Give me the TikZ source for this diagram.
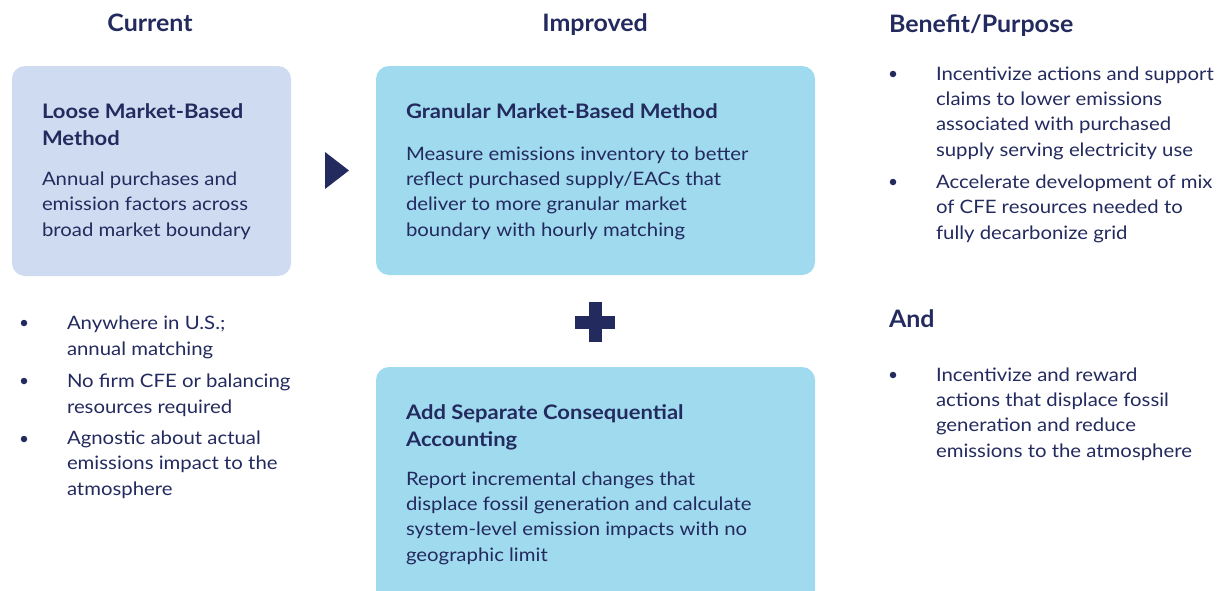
\documentclass[tikz,border=0pt]{standalone}
\usepackage{fontspec}
\setmainfont{Lato}[FakeStretch=1.1]
\newfontfamily\headfont{Lato}[FakeStretch=1.04]
\definecolor{navy}{HTML}{232A5E}
\definecolor{lavender}{HTML}{CEDBF0}
\definecolor{sky}{HTML}{A0DAEE}
\begin{document}
\begin{tikzpicture}[x=1pt,y=-1pt,
  every node/.style={inner sep=0pt, outer sep=0pt, text=navy},
  head/.style={anchor=base, font=\headfont\fontsize{24}{28}\selectfont\bfseries},
  headleft/.style={anchor=base west, font=\headfont\fontsize{24}{28}\selectfont\bfseries},
  % multi-line nodes are placed by the baseline of their last line
  boxtitle/.style={anchor=base west, align=left, font=\fontsize{20}{26.5}\selectfont\bfseries},
  body/.style={anchor=base west, align=left, font=\fontsize{18.5}{25.3}\selectfont},
  bul/.style={circle, fill=navy, minimum size=6.5pt},
  softbox/.style={rectangle, rounded corners=13pt, anchor=north west},
  glyph/.style={fill=navy}
]
\useasboundingbox (0,0) rectangle (1222,590);
\clip (0,0) rectangle (1222,590);

% column headings
\node[head] (hcur) at (150,31) {Current};
\node[head] (himp) at (595,31) {Improved};
\node[headleft] (hben) at (889,32) {Benefit/Purpose};
\node[headleft] (hand) at (889,327) {And};

% boxes
\node[softbox, fill=lavender, minimum width=279pt, minimum height=210pt] (loose) at (12,66) {};
\node[softbox, fill=sky, minimum width=439pt, minimum height=209pt] (gran) at (376,66) {};
\node[softbox, fill=sky, minimum width=439pt, minimum height=250pt] (cons) at (376,367) {};

% box texts
\node[boxtitle] (tloose) at (42,145) {Loose Market-Based\\Method};
\node[body] (bloose) at (42,236) {Annual purchases and\\emission factors across\\broad market boundary};

\node[boxtitle] (tgran) at (406,118) {Granular Market-Based Method};
\node[body] (bgran) at (406,236) {Measure emissions inventory to better\\reflect purchased supply/EACs that\\deliver to more granular market\\boundary with hourly matching};

\node[boxtitle] (tcons) at (406,446) {Add Separate Consequential\\Accounting};
\node[body] (bcons) at (406,561) {Report incremental changes that\\displace fossil generation and calculate\\system-level emission impacts with no\\geographic limit};

% arrow head between the two methods
\fill[glyph] (325,152) -- (349,170.5) -- (325,189) -- cycle;

% plus sign
\fill[glyph] (575,315.5) rectangle (615,328.5);
\fill[glyph] (588.5,302) rectangle (601.5,342);

% current bullets
\node[bul] (c1) at (24,323) {};
\node[body] (tc1) at (67,355) {Anywhere in U.S.;\\annual matching};
\node[bul] (c2) at (24,381) {};
\node[body] (tc2) at (67,413) {No firm CFE or balancing\\resources required};
\node[bul] (c3) at (24,439) {};
\node[body] (tc3) at (67,495) {Agnostic about actual\\emissions impact to the\\atmosphere};

% benefit bullets
\node[bul] (p1) at (893,74) {};
\node[body] (tp1) at (936,156) {Incentivize actions and support\\claims to lower emissions\\associated with purchased\\supply serving electricity use};
\node[bul] (p2) at (893,182) {};
\node[body] (tp2) at (936,239) {Accelerate development of mix\\of CFE resources needed to\\fully decarbonize grid};

% consequential benefit bullet
\node[bul] (a1) at (893,375) {};
\node[body] (ta1) at (936,457) {Incentivize and reward\\actions that displace fossil\\generation and reduce\\emissions to the atmosphere};
\end{tikzpicture}
\end{document}
